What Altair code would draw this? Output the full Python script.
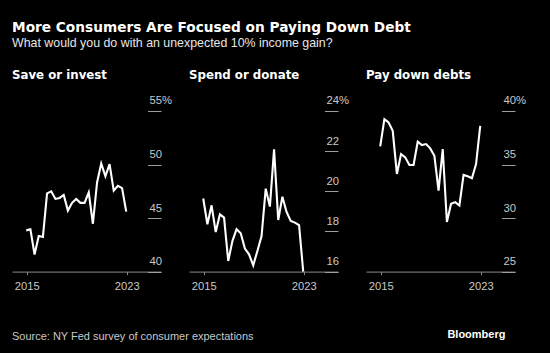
import altair as alt
import pandas as pd

# ---- data ----
dates = ["2014-12", "2015-04", "2015-08", "2015-12", "2016-04", "2016-08", "2016-12",
         "2017-04", "2017-08", "2017-12", "2018-04", "2018-08", "2018-12",
         "2019-04", "2019-08", "2019-12", "2020-04", "2020-08", "2020-12",
         "2021-04", "2021-08", "2021-12", "2022-04", "2022-08", "2022-12"]

save_invest = [43.85, 43.95, 41.6, 43.33, 43.24, 47.31, 47.5, 46.79, 46.88, 47.16,
               45.7, 46.42, 46.79, 46.42, 46.42, 47.4, 44.47, 48.33, 50.1, 48.9,
               50.03, 47.56, 48.02, 47.8, 45.6]

spend_donate = [19.64, 18.36, 19.30, 17.97, 18.85, 18.69, 16.53, 17.52, 18.11, 17.91,
                17.15, 16.86, 16.31, 17.03, 17.77, 20.13, 19.24, 22.09, 18.57, 19.73,
                18.97, 18.52, 18.44, 18.31, 16.0]

pay_down = [36.70, 39.24, 38.93, 38.15, 34.12, 35.98, 35.67, 34.96, 34.96, 37.13,
            36.82, 36.91, 36.51, 35.82, 32.57, 36.45, 29.63, 31.33, 31.49, 31.17,
            34.03, 33.91, 33.72, 35.05, 38.61]

panel_titles = ["Save or invest", "Spend or donate", "Pay down debts"]
y_domains = [[40, 55], [16, 24], [25, 40]]
y_ticks = [[40, 45, 50, 55], [16, 18, 20, 22, 24], [25, 30, 35, 40]]
x_ticks = [2015, 2023]

title_text = "More Consumers Are Focused on Paying Down Debt"
subtitle_text = "What would you do with an unexpected 10% income gain?"
source_text = ["Source: NY Fed survey of consumer expectations"]
brand_text = ["Bloomberg"]

BOLD = "DejaVu Sans"
REG = "Liberation Sans"
PW, PH = 149, 160.6


def dec_year(s):
    y, m = s.split("-")
    return int(y) + (int(m) - 0.5) / 12


t_vals = [dec_year(d) for d in dates]


def panel(title, values, dom, ticks, extra=None):
    df = pd.DataFrame({"t": t_vals, "v": values})
    top = ticks[-1]
    line = alt.Chart(df).mark_line(color="white", strokeWidth=2.1).encode(
        x=alt.X("t:Q",
                scale=alt.Scale(domain=[2013.82, 2025.74], nice=False, zero=False),
                axis=alt.Axis(values=x_ticks, format="d", title=None, tickSize=3,
                              domainColor="#8c8c8c", tickColor="#8c8c8c",
                              labelColor="#c8c8c8", labelFont=REG, labelFontSize=11.2,
                              labelPadding=6, grid=False)),
        y=alt.Y("v:Q",
                scale=alt.Scale(domain=dom, nice=False, zero=False),
                axis=alt.Axis(orient="right", values=ticks, offset=-13.5, tickSize=13.5,
                              labelPadding=-12, labelAlign="left", labelBaseline="alphabetic",
                              labelOffset=-7, domain=False, grid=False, title=None,
                              tickColor="#a0a0a0", labelColor="#c8c8c8", labelFont=REG,
                              labelFontSize=11.3,
                              labelExpr=f"datum.value == {top} ? datum.label + '%' : datum.label")),
    )
    layers = [line] + ([extra] if extra is not None else [])
    return alt.layer(*layers).properties(
        width=PW, height=PH,
        title=alt.TitleParams(title, anchor="start", frame="group", font=BOLD,
                              fontSize=11.8, fontWeight="bold", color="white",
                              baseline="alphabetic", offset=4),
    )


src = alt.Chart(pd.DataFrame({"label": source_text})).mark_text(
    align="left", baseline="middle", font=REG, fontSize=11, color="#c8c8c8").encode(
    x=alt.value(0), y=alt.value(226), text="label:N")
brand = alt.Chart(pd.DataFrame({"label": brand_text})).mark_text(
    align="right", baseline="middle", font=REG, fontSize=11, fontWeight="bold",
    color="white").encode(
    x=alt.value(139.4), y=alt.value(224.5), text="label:N")

series = [save_invest, spend_donate, pay_down]
extras = [src, None, brand]
panels = [panel(panel_titles[i], series[i], y_domains[i], y_ticks[i], extras[i])
          for i in range(3)]

chart = alt.hconcat(*panels, spacing=28, bounds="flush").properties(
    title=alt.TitleParams(title_text, subtitle=subtitle_text, anchor="start",
                          font=BOLD, fontSize=13.7, fontWeight="bold", color="white",
                          subtitleFont=REG, subtitleFontSize=12.4, subtitleColor="#e6e6e6",
                          subtitlePadding=2, offset=21),
    padding={"left": 12, "top": 21, "right": 24, "bottom": 10},
    background="black",
).configure_view(stroke=None)

chart.save("out.html", embed_options={"renderer": "svg", "actions": False})
